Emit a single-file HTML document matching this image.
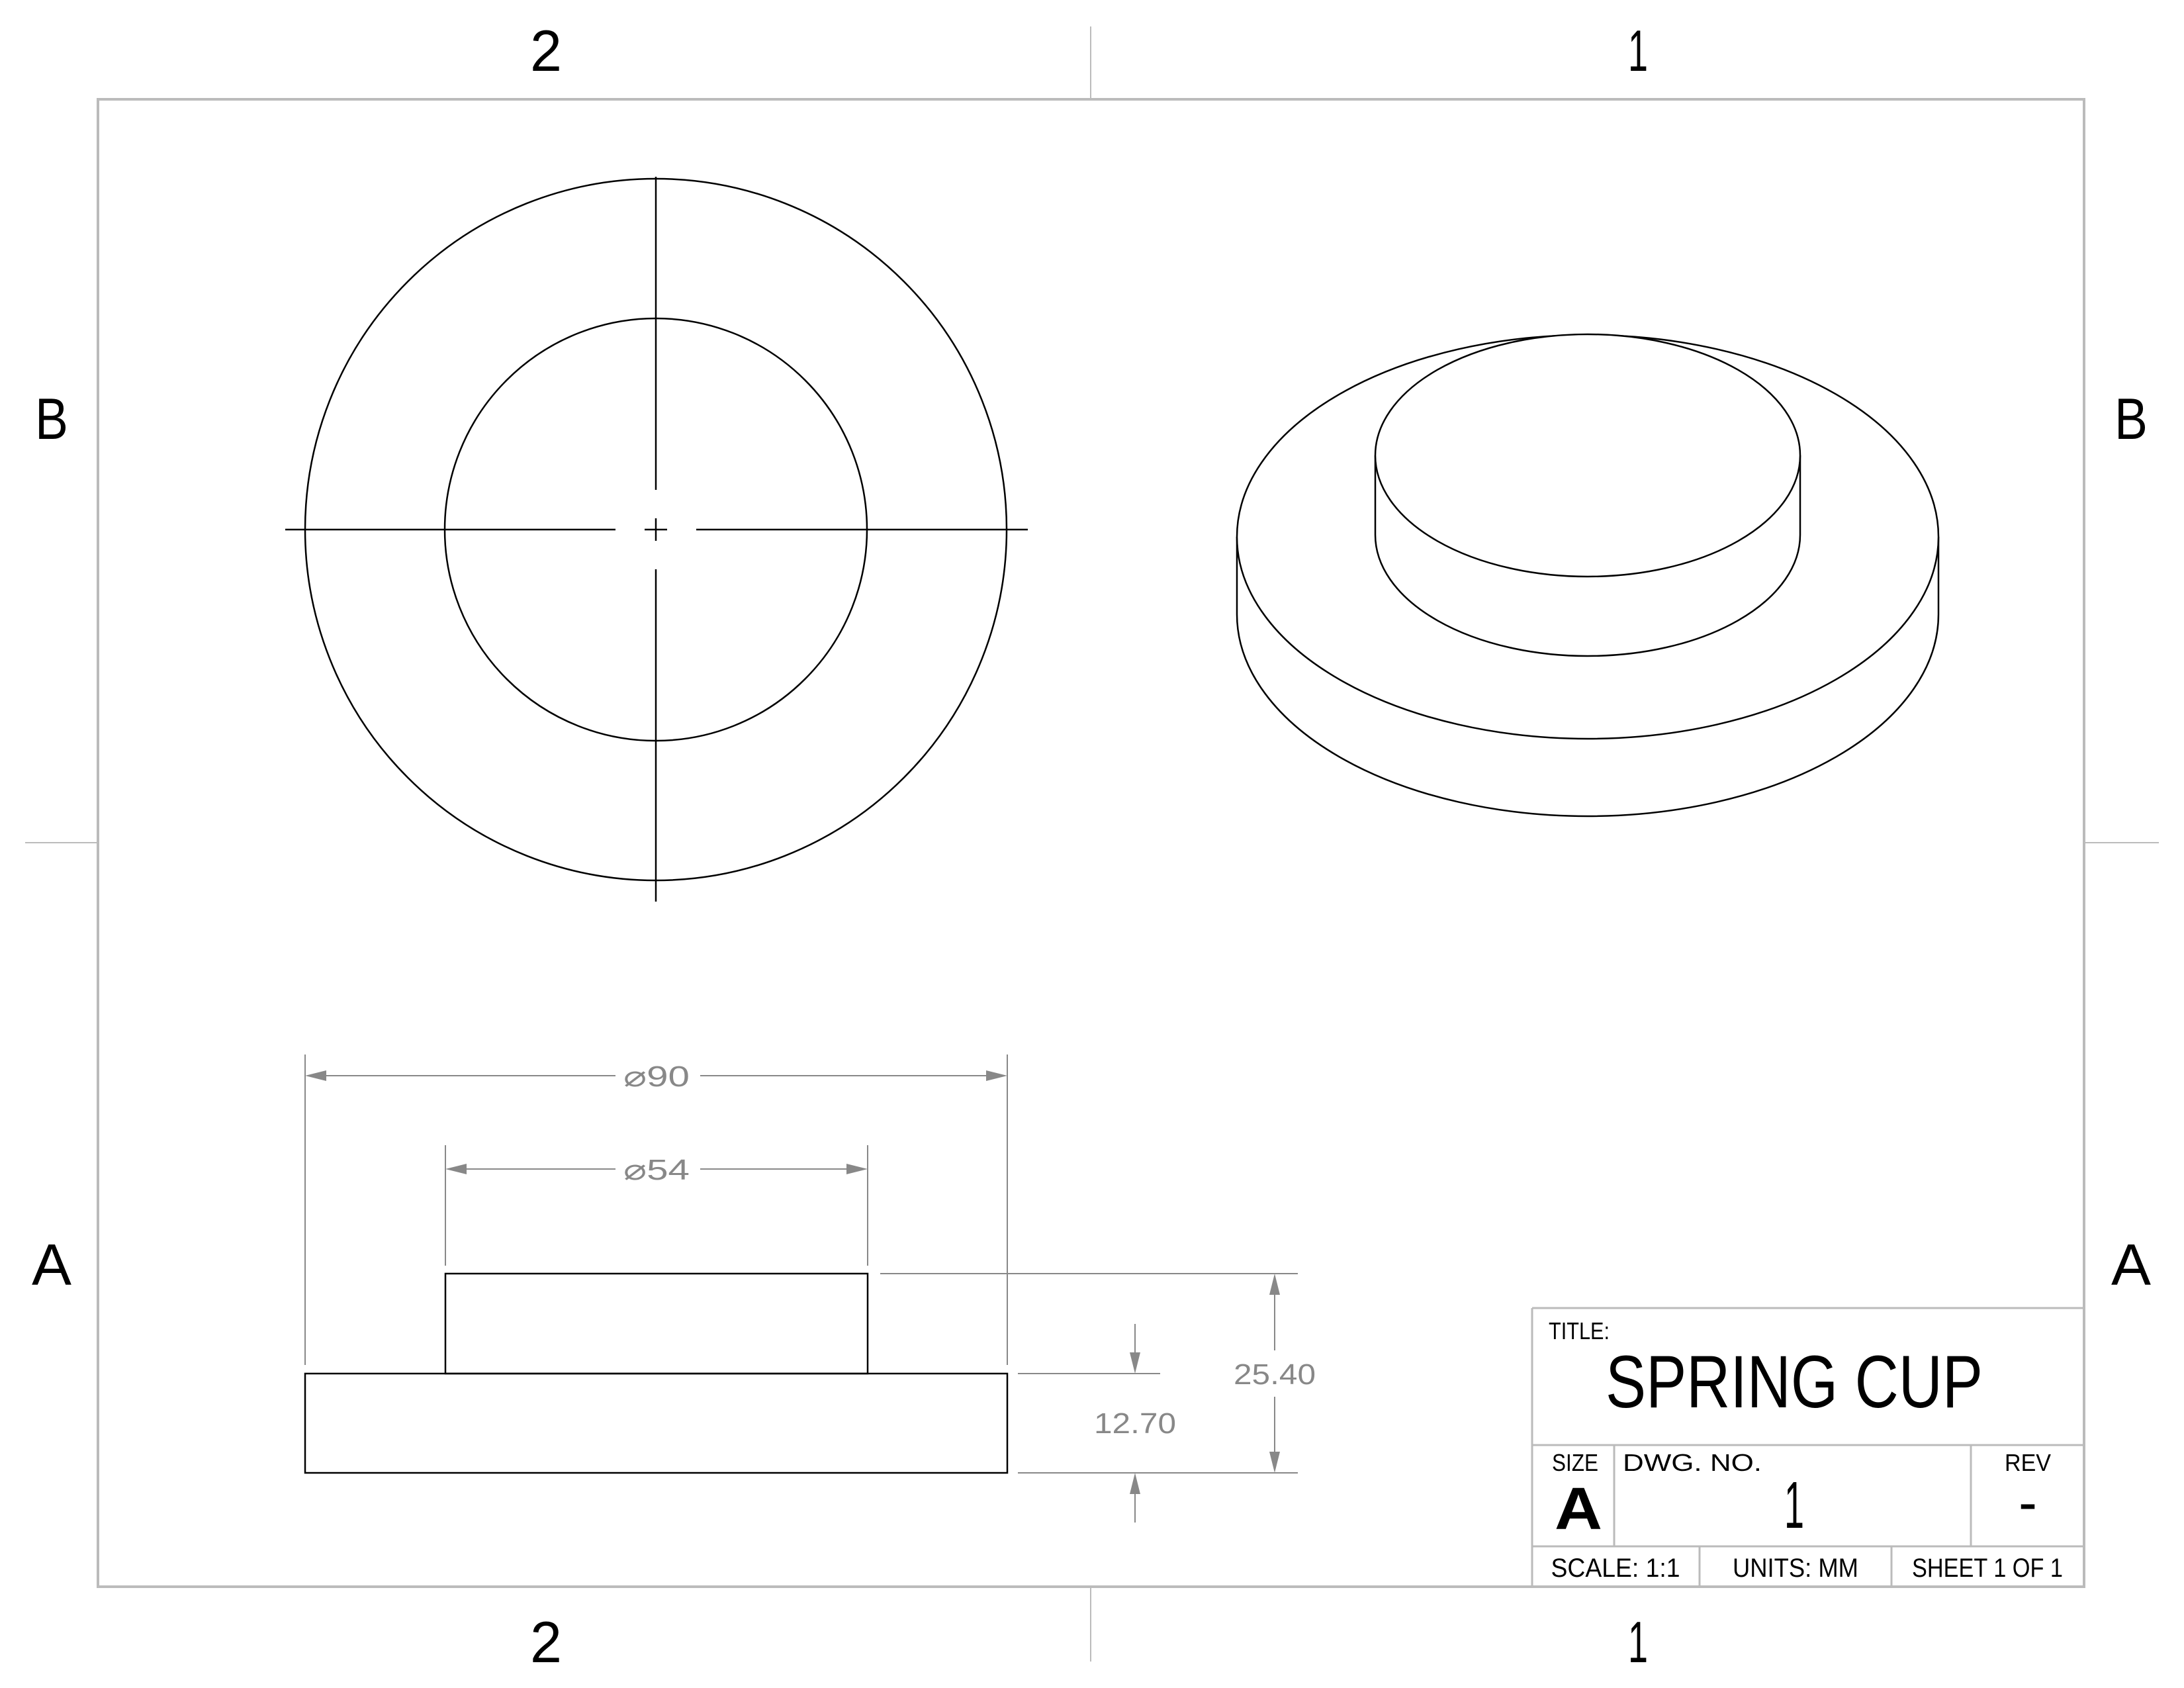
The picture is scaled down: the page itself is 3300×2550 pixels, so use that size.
<!DOCTYPE html>
<html><head><meta charset="utf-8"><style>
html,body{margin:0;padding:0;background:#fff;}
svg{display:block;}
text{font-family:"Liberation Sans",sans-serif;}
</style></head><body>
<svg width="3300" height="2550" viewBox="0 0 3300 2550" xmlns="http://www.w3.org/2000/svg">
<rect x="0" y="0" width="3300" height="2550" fill="#fff"/>
<!-- frame -->
<g stroke="#bbb" fill="none">
<rect x="148" y="150" width="3001" height="2247" stroke-width="4"/>
<line x1="1648" y1="40" x2="1648" y2="150" stroke-width="2"/>
<line x1="1648" y1="2397" x2="1648" y2="2510" stroke-width="2"/>
<line x1="38" y1="1273" x2="148" y2="1273" stroke-width="2"/>
<line x1="3149" y1="1273" x2="3262" y2="1273" stroke-width="2"/>
</g>
<g fill="#000" font-size="88" text-anchor="middle">
<text x="825" y="107" textLength="48" lengthAdjust="spacingAndGlyphs">2</text>
<text x="2475" y="107" textLength="30" lengthAdjust="spacingAndGlyphs">1</text>
<text x="825" y="2511" textLength="48" lengthAdjust="spacingAndGlyphs">2</text>
<text x="2475" y="2511" textLength="30" lengthAdjust="spacingAndGlyphs">1</text>
<text x="78" y="663" textLength="50" lengthAdjust="spacingAndGlyphs">B</text>
<text x="3220" y="663" textLength="50" lengthAdjust="spacingAndGlyphs">B</text>
<text x="78" y="1941" textLength="60" lengthAdjust="spacingAndGlyphs">A</text>
<text x="3220" y="1941" textLength="60" lengthAdjust="spacingAndGlyphs">A</text>
</g>
<!-- top view -->
<g stroke="#000" fill="none" stroke-width="2.5">
<circle cx="991" cy="800" r="530"/>
<circle cx="991" cy="800" r="319"/>
<g stroke-width="2.5">
<line x1="431" y1="800" x2="930" y2="800"/>
<line x1="1052" y1="800" x2="1553" y2="800"/>
<line x1="974" y1="800" x2="1008" y2="800"/>
<line x1="991" y1="267" x2="991" y2="740"/>
<line x1="991" y1="860" x2="991" y2="1362"/>
<line x1="991" y1="783" x2="991" y2="817"/>
</g>
</g>
<!-- iso view -->
<g stroke="#000" fill="none" stroke-width="2.5">
<path d="M1869 811 L1869 928 A530 305 0 0 0 2929 928 L2929 811"/>
<ellipse cx="2399" cy="811" rx="530" ry="305" fill="#fff"/>
<path d="M2078 688 L2078 808 A321 183 0 0 0 2720 808 L2720 688 Z" fill="#fff" stroke="none"/>
<path d="M2078 688 L2078 808 A321 183 0 0 0 2720 808 L2720 688"/>
<ellipse cx="2399" cy="688" rx="321" ry="183" fill="#fff"/>
</g>
<!-- side view -->
<g stroke="#000" fill="none" stroke-width="2.5">
<rect x="461" y="2075" width="1061" height="150"/>
<rect x="673" y="1924" width="638" height="151"/>
</g>
<!-- dimensions -->
<g stroke="#888" stroke-width="2" fill="#888">
<line x1="461" y1="1593" x2="461" y2="2062"/>
<line x1="1522" y1="1593" x2="1522" y2="2062"/>
<line x1="473" y1="1625" x2="930" y2="1625"/>
<line x1="1058" y1="1625" x2="1510" y2="1625"/>
<polygon points="461,1625 493,1617 493,1633" stroke="none"/>
<polygon points="1522,1625 1490,1617 1490,1633" stroke="none"/>
<line x1="673" y1="1730" x2="673" y2="1912"/>
<line x1="1311" y1="1730" x2="1311" y2="1912"/>
<line x1="685" y1="1766" x2="930" y2="1766"/>
<line x1="1058" y1="1766" x2="1299" y2="1766"/>
<polygon points="673,1766 705,1758 705,1774" stroke="none"/>
<polygon points="1311,1766 1279,1758 1279,1774" stroke="none"/>
<line x1="1330" y1="1924" x2="1961" y2="1924"/>
<line x1="1538" y1="2225" x2="1961" y2="2225"/>
<line x1="1538" y1="2075" x2="1753" y2="2075"/>
<line x1="1926" y1="1936" x2="1926" y2="2040"/>
<line x1="1926" y1="2110" x2="1926" y2="2213"/>
<polygon points="1926,1924 1918,1956 1934,1956" stroke="none"/>
<polygon points="1926,2225 1918,2193 1934,2193" stroke="none"/>
<line x1="1715" y1="2000" x2="1715" y2="2063"/>
<polygon points="1715,2075 1707,2043 1723,2043" stroke="none"/>
<line x1="1715" y1="2237" x2="1715" y2="2300"/>
<polygon points="1715,2225 1707,2257 1723,2257" stroke="none"/>
</g>
<g fill="#888" font-size="44" text-anchor="middle">
<text x="992" y="1641" textLength="100" lengthAdjust="spacingAndGlyphs">⌀90</text>
<text x="992" y="1782" textLength="100" lengthAdjust="spacingAndGlyphs">⌀54</text>
<text x="1926" y="2091" textLength="124" lengthAdjust="spacingAndGlyphs">25.40</text>
<text x="1715" y="2165" textLength="124" lengthAdjust="spacingAndGlyphs">12.70</text>
</g>
<!-- title block -->
<g stroke="#bbb" fill="none" stroke-width="3">
<line x1="2315" y1="1976" x2="3149" y2="1976"/>
<line x1="2315" y1="1976" x2="2315" y2="2397"/>
<line x1="2315" y1="2183" x2="3149" y2="2183"/>
<line x1="2315" y1="2336" x2="3149" y2="2336"/>
<line x1="2439" y1="2183" x2="2439" y2="2336"/>
<line x1="2978" y1="2183" x2="2978" y2="2336"/>
<line x1="2568" y1="2336" x2="2568" y2="2397"/>
<line x1="2858" y1="2336" x2="2858" y2="2397"/>
</g>
<g fill="#000">
<text x="2340" y="2023" font-size="36" textLength="92" lengthAdjust="spacingAndGlyphs">TITLE:</text>
<text x="2711" y="2126" font-size="112" text-anchor="middle" textLength="570" lengthAdjust="spacingAndGlyphs">SPRING CUP</text>
<text x="2345" y="2222" font-size="36" textLength="70" lengthAdjust="spacingAndGlyphs">SIZE</text>
<text x="2385" y="2310" font-size="90" font-weight="bold" text-anchor="middle" textLength="72" lengthAdjust="spacingAndGlyphs">A</text>
<text x="2452" y="2222" font-size="36" textLength="210" lengthAdjust="spacingAndGlyphs">DWG.  NO.</text>
<text x="2711" y="2308" font-size="100" text-anchor="middle" textLength="30" lengthAdjust="spacingAndGlyphs">1</text>
<text x="3064" y="2222" font-size="36" text-anchor="middle" textLength="70" lengthAdjust="spacingAndGlyphs">REV</text>
<text x="3064" y="2300" font-size="90" text-anchor="middle" textLength="28" lengthAdjust="spacingAndGlyphs">-</text>
<text x="2441" y="2382" font-size="40" text-anchor="middle" textLength="195" lengthAdjust="spacingAndGlyphs">SCALE: 1:1</text>
<text x="2713" y="2382" font-size="40" text-anchor="middle" textLength="190" lengthAdjust="spacingAndGlyphs">UNITS: MM</text>
<text x="3003" y="2382" font-size="40" text-anchor="middle" textLength="228" lengthAdjust="spacingAndGlyphs">SHEET 1 OF 1</text>
</g>
</svg>
</body></html>
